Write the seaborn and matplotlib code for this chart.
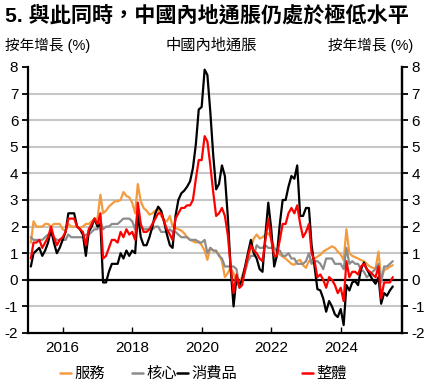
import numpy as np
import pandas as pd
import matplotlib
matplotlib.use('Agg')
import matplotlib.pyplot as plt
import seaborn as sns
from matplotlib.lines import Line2D

# ---------------- data (monthly, Jan 2015 - Jun 2025, y/y %) ----------------
months = pd.date_range('2015-01-31', periods=126, freq='ME')

services = [
    1.4, 2.2, 2.0, 2.0, 2.0, 2.1, 2.1, 2.0, 2.1, 2.1, 2.1, 1.9,
    1.85, 2.1, 2.0, 2.0, 2.0, 1.95, 2.0, 2.1, 2.1, 2.2, 2.3, 2.3,
    3.2, 2.5, 2.6, 2.75, 2.85, 2.95, 2.95, 3.0, 3.3, 3.15, 3.1, 2.9,
    2.5, 3.6, 2.95, 2.7, 2.6, 2.45, 2.5, 2.6, 2.65, 2.4, 2.25, 2.2,
    2.4, 2.0, 1.95, 1.9, 1.85, 1.75, 1.6, 1.5, 1.45, 1.4, 1.45, 1.3,
    1.1, 0.75, 1.2, 1.1, 1.05, 0.95, 0.7, 0.1, 0.25, 0.45, 0.25, -0.1,
    -0.25, 0.15, 0.45, 0.8, 1.2, 1.55, 1.7, 1.55, 1.6, 1.7, 1.75, 1.55,
    1.2, 1.05, 0.95, 0.87, 0.8, 0.7, 0.6, 0.56, 0.7, 0.75, 0.55, 0.45,
    0.7, 0.75, 0.8, 0.87, 0.94, 1.06, 1.13, 1.19, 1.26, 1.2, 1.06, 0.95,
    0.74, 1.9, 1.0, 0.9, 0.85, 0.8, 0.74, 0.7, 0.6, 0.5, 0.45, 0.42,
    1.06, 0.05, 0.36, 0.42, 0.49, 0.55,
]

core = [
    1.6, 1.5, 1.5, 1.5, 1.5, 1.6, 1.7, 1.7, 1.6, 1.5, 1.5, 1.5,
    1.5, 1.7, 1.6, 1.6, 1.6, 1.6, 1.6, 1.7, 1.7, 1.8, 1.9, 1.9,
    2.2, 1.9, 2.0, 2.0, 2.1, 2.1, 2.1, 2.2, 2.3, 2.3, 2.3, 2.2,
    1.9, 2.5, 2.0, 1.9, 1.9, 1.9, 1.9, 2.0, 2.0, 1.8, 1.8, 1.8,
    1.9, 1.8, 1.8, 1.7, 1.6, 1.6, 1.6, 1.5, 1.5, 1.5, 1.4, 1.4,
    1.5, 1.0, 1.2, 1.1, 1.1, 0.9, 0.8, 0.5, 0.5, 0.5, 0.5, 0.4,
    -0.3, 0.0, 0.3, 0.7, 0.9, 0.9, 1.3, 1.2, 1.2, 1.3, 1.2, 1.2,
    1.2, 1.1, 1.1, 0.9, 0.9, 1.0, 0.8, 0.8, 0.6, 0.6, 0.6, 0.7,
    1.0, 0.6, 0.7, 0.7, 0.6, 0.4, 0.8, 0.8, 0.8, 0.6, 0.6, 0.6,
    0.4, 1.2, 0.6, 0.7, 0.6, 0.6, 0.4, 0.3, 0.1, 0.2, 0.3, 0.4,
    0.6, -0.1, 0.5, 0.5, 0.6, 0.7,
]

goods = [
    0.5, 1.0, 1.1, 1.2, 0.9, 1.1, 1.4, 1.9, 1.4, 1.0, 1.2, 1.5,
    1.8, 2.5, 2.5, 2.5, 2.0, 1.9, 1.7, 0.9, 1.8, 2.0, 2.3, 2.0,
    2.1, -0.1, -0.1, 0.3, 0.6, 0.6, 0.6, 1.0, 0.8, 1.1, 0.9, 1.1,
    1.0, 2.5, 1.6, 1.3, 1.3, 1.6, 2.0, 2.5, 2.75, 2.6, 2.2, 1.7,
    1.3, 1.2, 2.4, 3.0, 3.25, 3.35, 3.5, 3.7, 4.2, 5.1, 6.4, 6.5,
    7.9, 7.7, 6.3, 4.7, 3.4, 3.6, 4.3, 3.9, 2.4, 0.4, -1.0, 0.1,
    -0.2, 0.0, 0.5, 1.0, 1.5, 1.0, 0.8, 0.4, 0.3, 1.7, 2.9, 1.9,
    0.5, 0.9, 2.1, 3.0, 3.0, 3.5, 3.9, 3.8, 4.3, 2.4, 2.4, 2.7,
    2.7, 1.3, 0.5, -0.35, -0.4, -0.7, -1.2, -0.8, -1.0, -1.3, -1.4, -1.1,
    -1.7, -0.2, -0.4, -0.1, -0.05, -0.2, 0.4, 0.65, 0.4, 0.2, 0.0, -0.15,
    0.1, -0.9, -0.5, -0.6, -0.4, -0.25,
]

headline = [
    0.8, 1.4, 1.4, 1.5, 1.2, 1.4, 1.6, 2.0, 1.6, 1.3, 1.5, 1.6,
    1.8, 2.3, 2.3, 2.3, 2.0, 1.9, 1.8, 1.3, 1.9, 2.1, 2.3, 2.1,
    2.5, 0.8, 0.9, 1.2, 1.5, 1.5, 1.4, 1.8, 1.6, 1.9, 1.7, 1.8,
    1.5, 2.9, 2.1, 1.8, 1.8, 1.9, 2.1, 2.3, 2.5, 2.5, 2.2, 1.9,
    1.7, 1.5, 2.3, 2.5, 2.7, 2.7, 2.8, 2.8, 3.0, 3.8, 4.5, 4.5,
    5.4, 5.2, 4.3, 3.3, 2.4, 2.5, 2.7, 2.4, 1.7, 0.5, -0.5, 0.2,
    -0.3, -0.2, 0.4, 0.9, 1.3, 1.1, 1.0, 0.8, 0.7, 1.5, 2.3, 1.5,
    0.9, 0.9, 1.5, 2.1, 2.1, 2.5, 2.7, 2.5, 2.8, 2.1, 1.6, 1.8,
    2.1, 1.0, 0.7, 0.1, 0.2, 0.0, -0.3, 0.1, 0.0, -0.2, -0.5, -0.3,
    -0.8, 0.7, 0.1, 0.3, 0.3, 0.2, 0.5, 0.6, 0.4, 0.3, 0.2, 0.1,
    0.5, -0.7, -0.1, -0.1, -0.1, 0.1,
]

series_names = ['服務', '核心', '消費品', '整體']
series_colors = ['#F39B3F', '#8C8C8C', '#000000', '#FF0000']
year_ticks = [2016, 2018, 2020, 2022, 2024]
y_ticks = list(range(-2, 9))

title = '5. 與此同時，中國內地通脹仍處於極低水平'
left_label = '按年增長 (%)'
mid_label = '中國內地通脹'
right_label = '按年增長 (%)'

# ---------------- build long table ----------------
df = pd.DataFrame({
    'date': np.tile(months, 4),
    'value': services + core + goods + headline,
    'series': np.repeat(series_names, len(months)),
})

sns.set_theme(style='white')
plt.rcParams['font.family'] = ['Liberation Sans', 'Noto Sans CJK TC', 'DejaVu Sans']
plt.rcParams['text.color'] = 'black'
plt.rcParams['axes.labelcolor'] = 'black'
plt.rcParams['xtick.color'] = 'black'
plt.rcParams['ytick.color'] = 'black'

fig = plt.figure(figsize=(4.29, 3.85), dpi=100)
ax = fig.add_axes([28 / 429, 1 - 333 / 385, (402 - 28) / 429, (333 - 67) / 385])

for yv in y_ticks:
    if yv in (-2, 0, 8):
        continue
    ax.axhline(yv, color='#C6C6C6', lw=1.5, zorder=0)
ax.axhline(0, color='black', lw=1.6, zorder=1)

sns.lineplot(data=df, x='date', y='value', hue='series', hue_order=series_names,
             palette=dict(zip(series_names, series_colors)), linewidth=1.6,
             estimator=None, legend=False, ax=ax, zorder=3)

ax.set_xlim(pd.Timestamp('2015-01-01'), pd.Timestamp('2025-10-05'))
ax.set_ylim(-2, 8)
ax.set_yticks(y_ticks)
ax.set_yticklabels([str(v) for v in y_ticks])
ax.set_xticks([pd.Timestamp(f'{y}-01-01') for y in year_ticks])
ax.set_xticklabels([str(y) for y in year_ticks])
ax.set_xlabel('')
ax.set_ylabel('')
ax.grid(False)

for s in ['left', 'bottom', 'right']:
    ax.spines[s].set_visible(True)
    ax.spines[s].set_color('black')
    ax.spines[s].set_linewidth(1.6)
ax.spines['top'].set_visible(False)

ax.tick_params(axis='y', left=True, direction='out', length=4, width=1.3,
               labelsize=11, pad=3)
ax.tick_params(axis='x', bottom=True, direction='in', length=4, width=1.0,
               labelsize=11, pad=6)

ax2 = ax.twinx()
ax2.set_ylim(-2, 8)
ax2.set_yticks(y_ticks)
ax2.set_yticklabels([str(v) for v in y_ticks])
ax2.grid(False)
for s in ['left', 'bottom', 'top']:
    ax2.spines[s].set_visible(False)
ax2.spines['right'].set_color('black')
ax2.spines['right'].set_linewidth(1.6)
ax2.tick_params(axis='y', right=True, direction='out', length=4, width=1.3,
                labelsize=11, pad=3)

# ---------------- texts ----------------
fig.text(5 / 429, 1 - 15 / 385, title, fontsize=15.2, fontweight='bold',
         ha='left', va='center')
fig.text(5 / 429, 1 - 45 / 385, left_label, fontsize=10.5, ha='left', va='center')
fig.text(211 / 429, 1 - 45 / 385, mid_label, fontsize=11, ha='center', va='center')
fig.text(413 / 429, 1 - 45 / 385, right_label, fontsize=10.5, ha='right', va='center')

# ---------------- legend ----------------
legend_x = [60, 132, 177, 302]
for name, col, lx in zip(series_names, series_colors, legend_x):
    fig.legend(handles=[Line2D([], [], color=col, lw=1.8)], labels=[name],
               loc='center left', bbox_to_anchor=(lx / 429, 1 - 374 / 385),
               frameon=False, handlelength=0.7, handletextpad=0.25,
               borderpad=0, borderaxespad=0, fontsize=11)

fig.savefig('out.png', dpi=100)
